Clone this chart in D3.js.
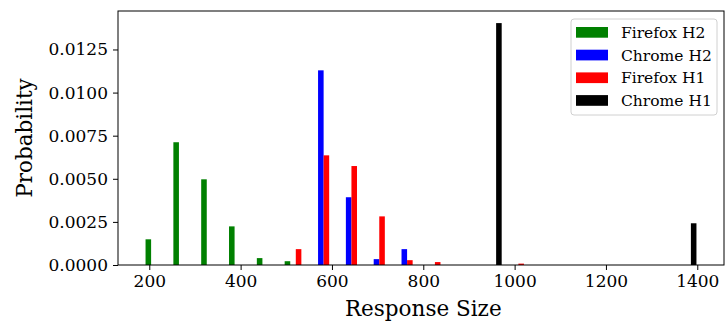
<!DOCTYPE html>
<html>
<head>
<meta charset="utf-8">
<script src="https://cdn.jsdelivr.net/npm/d3@7"></script>
<style>
  body { margin: 0; background: #fff; }
  text { font-family: "DejaVu Serif", serif; }
</style>
</head>
<body>
<div class="canvas"></div>
<script>
// histogram bins (20 equal bins)
const binStart = 185.7;
const binWidth = 60.93;
const binCount = 20;

// series names and colours
const seriesNames = ['Firefox H2', 'Chrome H2', 'Firefox H1', 'Chrome H1'];
const seriesColors = ['#008000', '#0000ff', '#ff0000', '#000000'];

// probability density per bin
const firefoxH2 = [0.00149, 0.00712, 0.00497, 0.00224, 0.00040, 0.00022, 0, 0, 0, 0, 0, 0, 0, 0, 0, 0, 0, 0, 0, 0];
const chromeH2  = [0, 0, 0, 0, 0, 0, 0.01129, 0.00393, 0.00034, 0.00092, 0, 0, 0, 0, 0, 0, 0, 0, 0, 0];
const firefoxH1 = [0, 0, 0, 0, 0, 0.00092, 0.00636, 0.00574, 0.00282, 0.00028, 0.00017, 0, 0, 0.00008, 0, 0, 0, 0, 0, 0];
const chromeH1  = [0, 0, 0, 0, 0, 0, 0, 0, 0, 0, 0, 0, 0.01403, 0, 0, 0, 0, 0, 0, 0.00242];

// tick labels
const xTicks = [200, 400, 600, 800, 1000, 1200, 1400];
const yTicks = [0, 0.0025, 0.005, 0.0075, 0.01, 0.0125];

const series = [firefoxH2, chromeH2, firefoxH1, chromeH1];

// dimensions of the chart
const dims = { width: 725, height: 322 };
const margin = { left: 118, right: 1, top: 11, bottom: 57 };
const innerW = dims.width - margin.left - margin.right;
const innerH = dims.height - margin.top - margin.bottom;

const svg = d3.select('.canvas')
  .append('svg')
  .attr('width', dims.width)
  .attr('height', dims.height);

const graph = svg.append('g')
  .attr('transform', `translate(${margin.left}, ${margin.top})`);

// bars sit side by side inside each bin, using 80% of its width
const barW = binWidth * 0.8 / series.length;
const barX = (bin, s) => binStart + bin * binWidth + binWidth * 0.1 + s * barW;

// x domain: bar extent plus 5% margins (like matplotlib)
const xMin = barX(0, 0);
const xMax = barX(binCount - 1, series.length - 1) + barW;
const pad = (xMax - xMin) * 0.05;
const x = d3.scaleLinear()
  .domain([xMin - pad, xMax + pad])
  .range([0, innerW]);

const yMax = d3.max(series, s => d3.max(s)) * 1.05;
const y = d3.scaleLinear()
  .domain([0, yMax])
  .range([innerH, 0]);

// bars
series.forEach((vals, s) => {
  graph.append('g')
    .selectAll('rect')
    .data(vals.map((v, i) => ({ v, i })).filter(d => d.v > 0))
    .enter()
    .append('rect')
    .attr('x', d => x(barX(d.i, s)))
    .attr('width', x(barW) - x(0))
    .attr('y', d => y(d.v))
    .attr('height', d => y(0) - y(d.v))
    .attr('fill', seriesColors[s]);
});

// axes
const xAxis = d3.axisBottom(x)
  .tickValues(xTicks)
  .tickSize(5)
  .tickPadding(5)
  .tickFormat(d3.format('d'));

const yAxis = d3.axisLeft(y)
  .tickValues(yTicks)
  .tickSize(5)
  .tickPadding(5)
  .tickFormat(d3.format('.4f'));

const gx = graph.append('g')
  .attr('transform', `translate(0, ${innerH})`)
  .call(xAxis);

const gy = graph.append('g')
  .call(yAxis);

[gx, gy].forEach(g => {
  g.select('.domain').remove();
  g.selectAll('line').attr('stroke', '#000').attr('stroke-width', 1);
  g.selectAll('text')
    .attr('fill', '#000')
    .style('font-family', '"DejaVu Serif", serif')
    .style('font-size', '17px');
});

// frame
graph.append('rect')
  .attr('x', 0)
  .attr('y', 0)
  .attr('width', innerW)
  .attr('height', innerH)
  .attr('fill', 'none')
  .attr('stroke', '#000')
  .attr('stroke-width', 1);

// axis labels
svg.append('text')
  .attr('x', margin.left + x(800))
  .attr('y', 316)
  .attr('text-anchor', 'middle')
  .style('font-size', '21.5px')
  .text('Response Size');

svg.append('text')
  .attr('transform', `translate(32, ${margin.top + innerH / 2}) rotate(-90)`)
  .attr('text-anchor', 'middle')
  .style('font-size', '21.5px')
  .text('Probability');

// legend
const legend = svg.append('g')
  .attr('transform', 'translate(571, 19)');

legend.append('rect')
  .attr('width', 146)
  .attr('height', 96)
  .attr('rx', 3)
  .attr('fill', '#fff')
  .attr('fill-opacity', 0.8)
  .attr('stroke', '#d0d0d0');

const rows = legend.selectAll('g.row')
  .data(seriesNames)
  .enter()
  .append('g')
  .attr('class', 'row')
  .attr('transform', (d, i) => `translate(0, ${8 + i * 22.7})`);

rows.append('rect')
  .attr('x', 5)
  .attr('width', 32)
  .attr('height', 10.7)
  .attr('fill', (d, i) => seriesColors[i]);

rows.append('text')
  .attr('x', 50)
  .attr('y', 11)
  .style('font-size', '15.5px')
  .text(d => d);
</script>
</body>
</html>
